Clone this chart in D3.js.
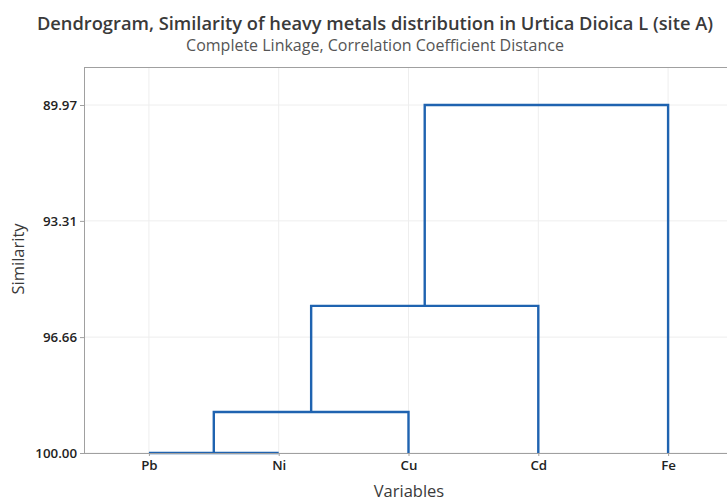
<!DOCTYPE html>
<html><head><meta charset="utf-8">
<script src="https://cdn.jsdelivr.net/npm/d3@7"></script>
<style>body{margin:0;background:#fff}svg{display:block}</style>
</head><body>
<script>
const leaves = ["Pb", "Ni", "Cu", "Cd", "Fe"];
const yTicks = [89.97, 93.31, 96.66, 100.00];
// merges: [left cluster, right cluster, similarity level]
const merges = [
  ["Pb", "Ni", 100.00],
  ["Pb+Ni", "Cu", 98.82],
  ["Pb+Ni+Cu", "Cd", 95.76],
  ["Pb+Ni+Cu+Cd", "Fe", 89.97]
];

const W = 727, H = 501;
const m = {left: 84, top: 67, right: 733, bottom: 453};
const svg = d3.select("body").append("svg").attr("width", W).attr("height", H)
  .style("font-family", "'Open Sans', 'Noto Sans', sans-serif");

const x = d3.scalePoint().domain(leaves).range([m.left, m.right]).padding(0.5);
const y = d3.scaleLinear().domain([100, 89.97]).range([m.bottom, 105]);

// gridlines
svg.append("g").selectAll("line").data(leaves).join("line")
  .attr("x1", d => x(d)).attr("x2", d => x(d)).attr("y1", m.top).attr("y2", m.bottom)
  .attr("stroke", "#eeeeee").attr("stroke-width", 1);
svg.append("g").selectAll("line").data(yTicks).join("line")
  .attr("x1", m.left).attr("x2", m.right).attr("y1", d => y(d)).attr("y2", d => y(d))
  .attr("stroke", "#eeeeee").attr("stroke-width", 1);

// frame top
svg.append("line").attr("x1", m.left).attr("x2", m.right).attr("y1", m.top + 0.5).attr("y2", m.top + 0.5)
  .attr("stroke", "#a0a0a0");

// dendrogram
const pos = {};
leaves.forEach(l => pos[l] = {x: x(l), h: 100});
const g = svg.append("g").attr("fill", "none").attr("stroke", "#1f63b0").attr("stroke-width", 2.4)
  .attr("stroke-linejoin", "miter");
merges.forEach(([a, b, s]) => {
  const A = pos[a], B = pos[b];
  g.append("path").attr("d",
    `M${A.x},${y(A.h)}V${y(s)}H${B.x}V${y(B.h)}`);
  pos[a + "+" + b] = {x: (A.x + B.x) / 2, h: s};
});

// axes
const yAxis = d3.axisLeft(y).tickValues(yTicks).tickFormat(d3.format(".2f")).tickSize(4).tickPadding(3);
const ya = svg.append("g").attr("transform", `translate(${m.left},0)`).call(yAxis);
ya.select(".domain").attr("stroke", "#a0a0a0").attr("d", `M0.5,${m.top}V${m.bottom}`);
ya.selectAll(".tick line").attr("stroke", "#a0a0a0");
ya.selectAll("text").attr("fill", "#222").style("font-size", "13.3px").style("font-weight", "600")
  .style("font-family", "'Open Sans', sans-serif");

const xAxis = d3.axisBottom(x).tickSize(3).tickPadding(5);
const xa = svg.append("g").attr("transform", `translate(0,${m.bottom})`).call(xAxis);
xa.select(".domain").attr("stroke", "#a0a0a0").attr("d", `M${m.left},0.5H${m.right}`);
xa.selectAll(".tick line").attr("stroke", "#a0a0a0");
xa.selectAll("text").attr("fill", "#222").style("font-size", "13.3px").style("font-weight", "600")
  .style("font-family", "'Open Sans', sans-serif");

// titles
svg.append("text").attr("x", 375).attr("y", 30).attr("text-anchor", "middle")
  .attr("fill", "#3a3a3a").style("font-size", "18.3px").style("font-weight", "600")
  .text("Dendrogram, Similarity of heavy metals distribution in Urtica Dioica L (site A)");
svg.append("text").attr("x", 375).attr("y", 51).attr("text-anchor", "middle")
  .attr("fill", "#555").style("font-size", "16px")
  .text("Complete Linkage, Correlation Coefficient Distance");
svg.append("text").attr("x", 409).attr("y", 497).attr("text-anchor", "middle")
  .attr("fill", "#3a3a3a").style("font-size", "16.5px").text("Variables");
svg.append("text").attr("transform", "translate(24,259) rotate(-90)").attr("text-anchor", "middle")
  .attr("fill", "#3a3a3a").style("font-size", "16.5px").text("Similarity");
</script>
</body></html>
